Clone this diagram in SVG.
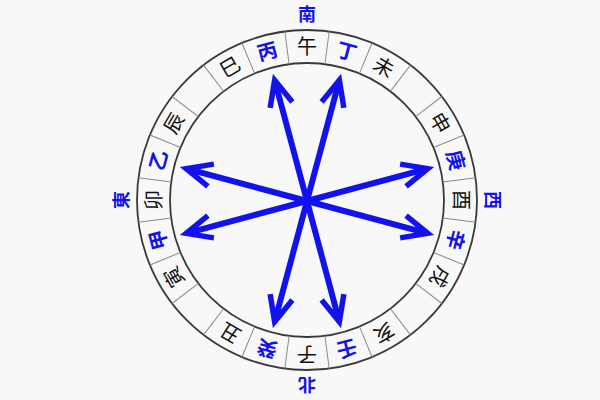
<svg xmlns="http://www.w3.org/2000/svg" width="600" height="400" viewBox="0 0 600 400">
<style>
.ring{fill:none;stroke:#3a3a3a;stroke-width:1.8}
.div{stroke:#8a8a8a;stroke-width:1}
.t{font-family:"Noto Sans CJK SC","Noto Sans CJK JP",sans-serif;font-size:20px;text-anchor:middle;dominant-baseline:central}
.d{font-size:18px}
.k{fill:#111}
.b{fill:#1212ee;font-weight:bold}
.arr{stroke:#1212ee;stroke-width:6;fill:none;marker-end:url(#ah)}
</style>
<defs>
<marker id="ah" markerUnits="userSpaceOnUse" markerWidth="80" markerHeight="80" refX="0" refY="0" orient="auto" overflow="visible">
<path d="M-25.5,-11.5 L0,0 L-25.5,11.5" fill="none" stroke="#1212ee" stroke-width="5.5" stroke-linejoin="miter"/>
</marker>
</defs>
<rect width="600" height="400" fill="#f8f8f8"/>
<g id="compass-ring">
<circle class="ring" cx="307" cy="200" r="170"/>
<circle class="ring" cx="307" cy="200" r="137"/>
<g class="div">
<line x1="307" y1="63" x2="307" y2="30" transform="rotate(7.5 307 200)"/>
<line x1="307" y1="63" x2="307" y2="30" transform="rotate(22.5 307 200)"/>
<line x1="307" y1="63" x2="307" y2="30" transform="rotate(37.5 307 200)"/>
<line x1="307" y1="63" x2="307" y2="30" transform="rotate(52.5 307 200)"/>
<line x1="307" y1="63" x2="307" y2="30" transform="rotate(67.5 307 200)"/>
<line x1="307" y1="63" x2="307" y2="30" transform="rotate(82.5 307 200)"/>
<line x1="307" y1="63" x2="307" y2="30" transform="rotate(97.5 307 200)"/>
<line x1="307" y1="63" x2="307" y2="30" transform="rotate(112.5 307 200)"/>
<line x1="307" y1="63" x2="307" y2="30" transform="rotate(127.5 307 200)"/>
<line x1="307" y1="63" x2="307" y2="30" transform="rotate(142.5 307 200)"/>
<line x1="307" y1="63" x2="307" y2="30" transform="rotate(157.5 307 200)"/>
<line x1="307" y1="63" x2="307" y2="30" transform="rotate(172.5 307 200)"/>
<line x1="307" y1="63" x2="307" y2="30" transform="rotate(187.5 307 200)"/>
<line x1="307" y1="63" x2="307" y2="30" transform="rotate(202.5 307 200)"/>
<line x1="307" y1="63" x2="307" y2="30" transform="rotate(217.5 307 200)"/>
<line x1="307" y1="63" x2="307" y2="30" transform="rotate(232.5 307 200)"/>
<line x1="307" y1="63" x2="307" y2="30" transform="rotate(247.5 307 200)"/>
<line x1="307" y1="63" x2="307" y2="30" transform="rotate(262.5 307 200)"/>
<line x1="307" y1="63" x2="307" y2="30" transform="rotate(277.5 307 200)"/>
<line x1="307" y1="63" x2="307" y2="30" transform="rotate(292.5 307 200)"/>
<line x1="307" y1="63" x2="307" y2="30" transform="rotate(307.5 307 200)"/>
<line x1="307" y1="63" x2="307" y2="30" transform="rotate(322.5 307 200)"/>
<line x1="307" y1="63" x2="307" y2="30" transform="rotate(337.5 307 200)"/>
<line x1="307" y1="63" x2="307" y2="30" transform="rotate(352.5 307 200)"/>
</g>
</g>
<g id="connectors">
<line class="arr" x1="307" y1="201" x2="274.65" y2="80.26"/>
<line class="arr" x1="307" y1="201" x2="339.35" y2="80.26"/>
<line class="arr" x1="307" y1="201" x2="427.74" y2="168.65"/>
<line class="arr" x1="307" y1="201" x2="427.74" y2="233.35"/>
<line class="arr" x1="307" y1="201" x2="339.35" y2="321.74"/>
<line class="arr" x1="307" y1="201" x2="274.65" y2="321.74"/>
<line class="arr" x1="307" y1="201" x2="186.26" y2="233.35"/>
<line class="arr" x1="307" y1="201" x2="186.26" y2="168.65"/>
</g>
<g id="n-wu"><text class="t k" x="307" y="45">午</text></g>
<g id="n-ding"><text class="t b" x="307" y="45" transform="rotate(15 307 200)">丁</text></g>
<g id="n-wei"><text class="t k" x="307" y="45" transform="rotate(30 307 200)">未</text></g>
<g id="n-shen"><text class="t k" x="307" y="45" transform="rotate(60 307 200)">申</text></g>
<g id="n-geng"><text class="t b" x="307" y="45" transform="rotate(75 307 200)">庚</text></g>
<g id="n-you"><text class="t k" x="307" y="45" transform="rotate(90 307 200)">酉</text></g>
<g id="n-xin"><text class="t b" x="307" y="45" transform="rotate(105 307 200)">辛</text></g>
<g id="n-xu"><text class="t k" x="307" y="45" transform="rotate(120 307 200)">戌</text></g>
<g id="n-hai"><text class="t k" x="307" y="45" transform="rotate(150 307 200)">亥</text></g>
<g id="n-ren"><text class="t b" x="307" y="45" transform="rotate(165 307 200)">壬</text></g>
<g id="n-zi"><text class="t k" x="307" y="45" transform="rotate(180 307 200)">子</text></g>
<g id="n-gui"><text class="t b" x="307" y="45" transform="rotate(195 307 200)">癸</text></g>
<g id="n-chou"><text class="t k" x="307" y="45" transform="rotate(210 307 200)">丑</text></g>
<g id="n-yin"><text class="t k" x="307" y="45" transform="rotate(240 307 200)">寅</text></g>
<g id="n-jia"><text class="t b" x="307" y="45" transform="rotate(255 307 200)">甲</text></g>
<g id="n-mao"><text class="t k" x="307" y="45" transform="rotate(270 307 200)">卯</text></g>
<g id="n-yi"><text class="t b" x="307" y="45" transform="rotate(285 307 200)">乙</text></g>
<g id="n-chen"><text class="t k" x="307" y="45" transform="rotate(300 307 200)">辰</text></g>
<g id="n-si"><text class="t k" x="307" y="45" transform="rotate(330 307 200)">巳</text></g>
<g id="n-bing"><text class="t b" x="307" y="45" transform="rotate(345 307 200)">丙</text></g>
<g id="d-south"><text class="t d b" x="307" y="13">南</text></g>
<g id="d-west"><text class="t d b" x="307" y="13" transform="rotate(90 307 200)">西</text></g>
<g id="d-north"><text class="t d b" x="307" y="14" transform="rotate(180 307 200)">北</text></g>
<g id="d-east"><text class="t d b" x="307" y="13" transform="rotate(270 307 200)">東</text></g>
</svg>
